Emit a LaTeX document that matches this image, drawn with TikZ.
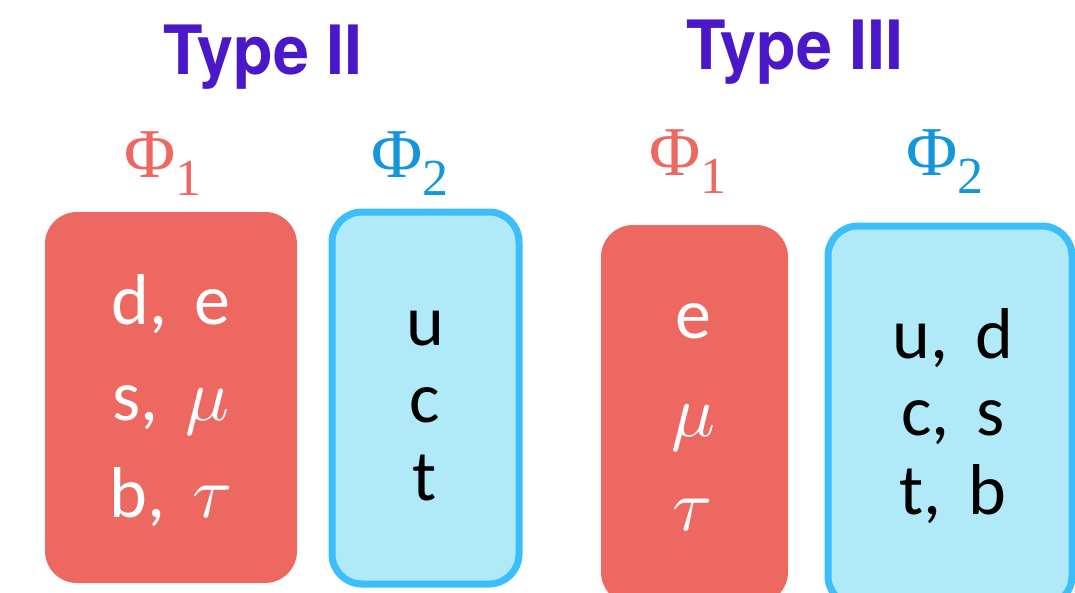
\documentclass[tikz,border=0pt]{standalone}
\usepackage{fontspec}
\newfontfamily\titlefont{TeX Gyre Heros}
\newfontfamily\boxfont{Carlito}
\newfontfamily\phifont{Liberation Serif}
\definecolor{redfill}{RGB}{236,104,96}
\definecolor{bluefill}{RGB}{176,234,249}
\definecolor{blueline}{RGB}{60,190,250}
\definecolor{titlecol}{RGB}{74,24,200}
\definecolor{phired}{RGB}{236,104,96}
\definecolor{phiblue}{RGB}{20,150,220}
\newcommand{\grk}[1]{\scalebox{7.3}{\fontsize{10}{12}\selectfont$\boldsymbol{#1}$}}
\newcommand{\boldsymbol}[1]{#1}
\newcommand{\gap}{\hspace{0.38em}}
\newcommand{\ttl}[1]{\scalebox{0.95}[1]{#1}}
\newcommand{\phisym}[1]{{\phifont\fontsize{70}{70}\selectfont Φ\raisebox{-18pt}{\fontsize{52}{52}\selectfont #1}}}
\begin{document}
\begin{tikzpicture}[x=1pt,y=-1pt,
  title/.style={text=titlecol,font=\titlefont\bfseries\fontsize{68}{68}\selectfont,anchor=base,inner sep=0pt},
  redbox/.style={fill=redfill,rounded corners=32pt},
  bluebox/.style={draw=blueline,line width=7pt,fill=bluefill,rounded corners=30pt},
  redtext/.style={text=white,font=\boxfont\fontsize{72}{72}\selectfont,anchor=base,inner sep=0pt},
  bluetext/.style={text=black,font=\boxfont\fontsize{72}{72}\selectfont,anchor=base,inner sep=0pt},
  philab/.style={anchor=base,inner sep=0pt}]
\useasboundingbox (0,0) rectangle (1075,592);
\clip (0,0) rectangle (1075,592);
\fill[white] (0,0) rectangle (1075,592);
% titles
\node[title] (t2) at (263,74) {\ttl{Type II}};
\node[title] (t3) at (795,69) {\ttl{Type III}};
% Phi labels
\node[philab,text=phired] (p21) at (163,177) {\phisym{1}};
\node[philab,text=phiblue] (p22) at (410,177) {\phisym{2}};
\node[philab,text=phired] (p31) at (688,175) {\phisym{1}};
\node[philab,text=phiblue] (p32) at (945,175) {\phisym{2}};
% boxes
\path[redbox] (45,212) rectangle (297,583);
\path[bluebox] (332,212) rectangle (519,584);
\path[redbox] (601,225) rectangle (788,604);
\path[bluebox] (828,226) rectangle (1072,606);
% Type II contents
\node[redtext] (a1) at (171,324) {d,\gap e};
\node[redtext] (a2) at (171,420) {s,\gap\grk{\mu}};
\node[redtext] (a3) at (171,517) {b,\gap\grk{\tau}};
\node[bluetext] (b1) at (425,345) {u};
\node[bluetext] (b2) at (425,422) {c};
\node[bluetext] (b3) at (425,500) {t};
% Type III contents
\node[redtext] (c1) at (693,338) {e};
\node[redtext] (c2) at (693,436) {\grk{\mu}};
\node[redtext] (c3) at (693,530) {\grk{\tau}};
\node[bluetext] (d1) at (953,358) {u,\gap d};
\node[bluetext] (d2) at (953,435) {c,\gap s};
\node[bluetext] (d3) at (953,514) {t,\gap b};
\end{tikzpicture}
\end{document}
